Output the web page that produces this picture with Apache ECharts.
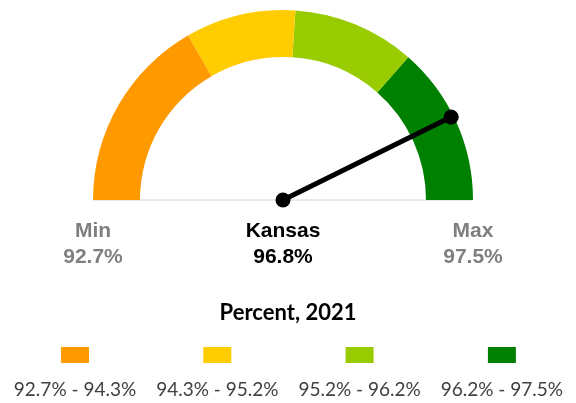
<!DOCTYPE html>
<html><head><meta charset="utf-8">
<script src="https://cdn.jsdelivr.net/npm/echarts@6/dist/echarts.min.js"></script>
<style>html,body{margin:0;padding:0;background:#fff}#c{width:576px;height:403px}</style>
</head><body><div id="c"></div>
<script>
const gaugeMin = 92.7, gaugeMax = 97.5;
const stateName = 'Kansas';
const stateValue = 96.8;
const bandBreaks = [94.3, 95.2, 96.2, 97.5];
const bandColors = ['#FF9900', '#FFCC00', '#99CC00', '#008000'];
const legendLabels = ['92.7% - 94.3%', '94.3% - 95.2%', '95.2% - 96.2%', '96.2% - 97.5%'];
const legendTitle = 'Percent, 2021';

const axisColors = bandBreaks.map((b, i) => [(b - gaugeMin) / (gaugeMax - gaugeMin), bandColors[i]]);
const cx = 283, cy = 200, R = 190;
const fmt = v => v.toFixed(1) + '%';
const arial = '"Liberation Sans", Arial, sans-serif';
const calib = 'Lato, "Open Sans", sans-serif';

const graphics = [
  { type: 'line', shape: { x1: cx - R, y1: cy, x2: cx + R, y2: cy }, style: { stroke: '#d4d4d4', lineWidth: 1 }, z: 0 },
  { type: 'text', x: cx - R, y: 231, style: { text: 'Min', fill: '#7f7f7f', font: 'bold 21px ' + arial, textAlign: 'center', textVerticalAlign: 'middle' } },
  { type: 'text', x: cx - R, y: 257, style: { text: fmt(gaugeMin), fill: '#7f7f7f', font: 'bold 21px ' + arial, textAlign: 'center', textVerticalAlign: 'middle' } },
  { type: 'text', x: cx + R, y: 231, style: { text: 'Max', fill: '#7f7f7f', font: 'bold 21px ' + arial, textAlign: 'center', textVerticalAlign: 'middle' } },
  { type: 'text', x: cx + R, y: 257, style: { text: fmt(gaugeMax), fill: '#7f7f7f', font: 'bold 21px ' + arial, textAlign: 'center', textVerticalAlign: 'middle' } },
  { type: 'text', x: 288, y: 313, style: { text: legendTitle, fill: '#000', font: 'bold 22px ' + calib, textAlign: 'center', textVerticalAlign: 'middle' } }
];
legendLabels.forEach((lab, i) => {
  const x = 75 + i * 142.3;
  graphics.push({ type: 'rect', shape: { x: x - 14, y: 347, width: 28, height: 16 }, style: { fill: bandColors[i] } });
  graphics.push({ type: 'text', x: x, y: 390, style: { text: lab, fill: '#404040', font: '19px ' + calib, textAlign: 'center', textVerticalAlign: 'middle' } });
});

const chart = echarts.init(document.getElementById('c'));
chart.setOption({
  animation: false,
  backgroundColor: '#fff',
  graphic: graphics,
  series: [
    {
      type: 'gauge', center: [cx, cy], radius: R, startAngle: 180, endAngle: 0,
      min: gaugeMin, max: gaugeMax,
      axisLine: { lineStyle: { width: 47, color: axisColors } },
      axisTick: { show: false }, splitLine: { show: false }, axisLabel: { show: false },
      pointer: { icon: 'rect', width: 5, length: 188, offsetCenter: [0, 0], itemStyle: { color: '#000' } },
      anchor: { show: true, size: 15, showAbove: true, itemStyle: { color: '#000' } },
      title: { show: true, offsetCenter: [0, 31], color: '#000', fontWeight: 'bold', fontSize: 21, fontFamily: arial },
      detail: { show: true, offsetCenter: [0, 57], color: '#000', fontWeight: 'bold', fontSize: 21, fontFamily: arial, formatter: v => fmt(v) },
      data: [{ value: stateValue, name: stateName }]
    },
    {
      type: 'gauge', center: [cx, cy], radius: R, startAngle: 180, endAngle: 0,
      min: gaugeMin, max: gaugeMax,
      axisLine: { show: false }, axisTick: { show: false }, splitLine: { show: false }, axisLabel: { show: false },
      pointer: { icon: 'circle', width: 15, length: 15, offsetCenter: [0, -180], keepAspect: true, itemStyle: { color: '#000' } },
      title: { show: false }, detail: { show: false },
      data: [{ value: stateValue }]
    }
  ]
});
</script></body></html>
